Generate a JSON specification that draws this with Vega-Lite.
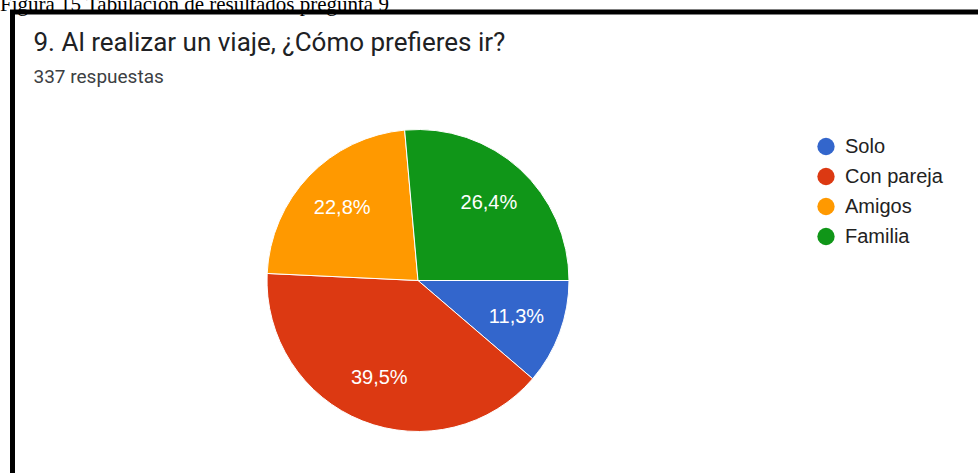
{
  "$schema": "https://vega.github.io/schema/vega-lite/v6.json",
  "padding": {"left": -0.5, "top": -7, "right": -17, "bottom": -14},
  "background": "white",
  "title": {
    "text": "Figura 15 Tabulación de resultados pregunta 9",
    "font": "Liberation Serif",
    "fontSize": 21,
    "fontWeight": "normal",
    "color": "#000000",
    "anchor": "start",
    "offset": 0,
    "dx": -10,
    "dy": 5
  },
  "config": {
    "concat": {"spacing": 0}
  },
  "datasets": {
    "respuestas": [
      {"opcion": "Solo", "respuestas": 38, "orden": 1, "etiqueta": "11,3%"},
      {"opcion": "Con pareja", "respuestas": 133, "orden": 2, "etiqueta": "39,5%"},
      {"opcion": "Amigos", "respuestas": 77, "orden": 3, "etiqueta": "22,8%"},
      {"opcion": "Familia", "respuestas": 89, "orden": 4, "etiqueta": "26,4%"}
    ]
  },
  "vconcat": [
    {
      "width": 985,
      "height": 475,
      "view": {"stroke": "#000000", "strokeWidth": 5, "fill": "#ffffff"},
      "title": {
        "text": "9. Al realizar un viaje, ¿Cómo prefieres ir?",
        "subtitle": "337 respuestas",
        "anchor": "start",
        "frame": "group",
        "offset": -75,
        "dx": 21,
        "font": "Roboto",
        "fontSize": 26,
        "fontWeight": "normal",
        "color": "#202124",
        "subtitleFont": "Roboto",
        "subtitleFontSize": 19,
        "subtitleColor": "#3c4043",
        "subtitlePadding": 12
      },
      "data": {"name": "respuestas"},
      "encoding": {
        "theta": {
          "field": "respuestas",
          "type": "quantitative",
          "stack": true,
          "scale": {"range": [1.5708, 7.854]}
        },
        "order": {"field": "orden", "type": "quantitative"}
      },
      "layer": [
        {
          "mark": {
            "type": "arc",
            "outerRadius": 151,
            "stroke": "#ffffff",
            "strokeWidth": 1,
            "xOffset": -87,
            "yOffset": 31
          },
          "encoding": {
            "color": {
              "field": "opcion",
              "type": "nominal",
              "scale": {
                "domain": ["Solo", "Con pareja", "Amigos", "Familia"],
                "range": ["#3366cc", "#dc3912", "#ff9900", "#109618"]
              },
              "legend": {
                "title": null,
                "orient": "none",
                "legendX": 803.5,
                "legendY": 124.5,
                "symbolType": "circle",
                "symbolSize": 300,
                "symbolStrokeWidth": 0,
                "labelFont": "Liberation Sans",
                "labelFontSize": 20,
                "labelColor": "#222222",
                "labelOffset": 9,
                "rowPadding": 10,
                "padding": 0
              }
            }
          }
        },
        {
          "mark": {
            "type": "text",
            "radius": 105,
            "xOffset": -87,
            "yOffset": 31,
            "font": "Liberation Sans",
            "fontSize": 20,
            "color": "#ffffff"
          },
          "encoding": {
            "text": {"field": "etiqueta", "type": "nominal"}
          }
        }
      ]
    }
  ]
}
